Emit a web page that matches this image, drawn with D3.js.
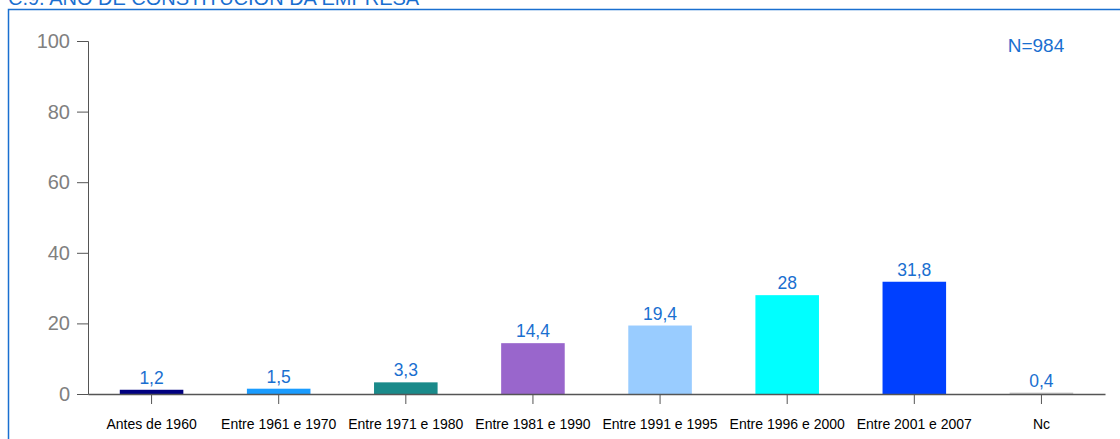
<html>
  <head>
    <meta charset="utf-8">
    <script src="https://d3js.org/d3.v7.min.js"></script>
    <style>
      body{margin:0;background:#fff;}
      text{font-family:"Liberation Sans",Arial,sans-serif;}
    </style>
  </head>
  <body>
    <script>
      var categories=["Antes de 1960","Entre 1961 e 1970","Entre 1971 e 1980","Entre 1981 e 1990","Entre 1991 e 1995","Entre 1996 e 2000","Entre 2001 e 2007","Nc"];
      var values=[1.2,1.5,3.3,14.4,19.4,28,31.8,0.4];
      var colors=["#000080","#1a9cff","#1a8a8a","#9966cc","#99ccff","#00ffff","#0040ff","#c8c8c8"];
      var yTicks=[0,20,40,60,80,100];
      var title="C.9. ANO DE CONSTITUCIÓN DA EMPRESA";
      var note="N=984";

      var blue="#1a6fd0";
      var svg=d3.select('body').append('svg')
                .attr('width',1120)
                .attr('height',439);

      // frame
      svg.append('path')
         .attr('d','M8.5,439 L8.5,9.5 L1120,9.5')
         .attr('fill','none')
         .attr('stroke',blue)
         .attr('stroke-width',1.5);

      svg.append('text')
         .attr('x',8)
         .attr('y',4.5)
         .attr('fill',blue)
         .attr('font-size',20)
         .text(title);

      var x=d3.scaleBand().domain(categories).range([88,1105]).paddingInner(0.5).paddingOuter(0.25);
      var y=d3.scaleLinear().domain([0,100]).range([394,41]);

      var yAxis=svg.append('g')
                   .attr('transform','translate(88,0)')
                   .call(d3.axisLeft(y).tickValues(yTicks).tickSize(11).tickPadding(7));
      yAxis.select('.domain').attr('stroke','#555');
      yAxis.selectAll('.tick line').attr('stroke','#555');
      yAxis.selectAll('.tick text').attr('fill','#808080').attr('font-size',20).attr('font-family','"Liberation Sans",Arial,sans-serif');

      svg.selectAll('rect.bar').data(values).enter().append('rect')
         .attr('class','bar')
         .attr('x',function(d,i){return x(categories[i]);})
         .attr('width',x.bandwidth())
         .attr('y',function(d){return y(d);})
         .attr('height',function(d){return y(0)-y(d);})
         .attr('fill',function(d,i){return colors[i];});

      var xAxis=svg.append('g')
                   .attr('transform','translate(0,394)')
                   .call(d3.axisBottom(x).tickSize(10).tickPadding(15).tickSizeOuter(0));
      xAxis.select('.domain').attr('stroke','#555').attr('stroke-width',1.5);
      xAxis.selectAll('.tick line').attr('stroke','#555');
      xAxis.selectAll('.tick text').attr('fill','#000').attr('font-size',14).attr('font-family','"Liberation Sans",Arial,sans-serif');

      svg.selectAll('text.val').data(values).enter().append('text')
         .attr('class','val')
         .attr('x',function(d,i){return x(categories[i])+x.bandwidth()/2;})
         .attr('y',function(d){return y(d)-6;})
         .attr('text-anchor','middle')
         .attr('fill',blue)
         .attr('font-size',17.5)
         .text(function(d){return String(d).replace('.',',');});

      svg.append('text')
         .attr('x',1036)
         .attr('y',52)
         .attr('text-anchor','middle')
         .attr('fill',blue)
         .attr('font-size',19)
         .text(note);
    </script>
  </body>
</html>
